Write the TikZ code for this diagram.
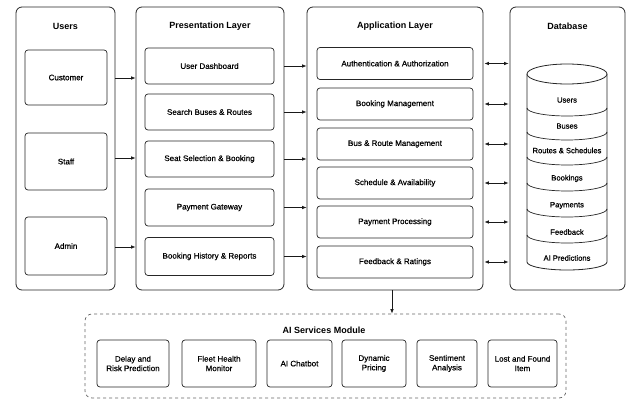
\documentclass[tikz,border=0pt]{standalone}
\usepackage{fontspec}
\setmainfont{Liberation Sans}
\newfontfamily\medfont[FakeBold=0.6]{Liberation Sans}
\usetikzlibrary{arrows.meta}
\tikzset{
  container/.style={draw=black!85, line width=0.8pt, rounded corners=6pt, fill=white, inner sep=0pt},
  item/.style={draw=black!85, line width=0.7pt, rounded corners=3pt, fill=white, inner sep=1pt, align=center, font=\medfont\fontsize{8}{9.5}\selectfont},
  ttl/.style={font=\fontsize{9}{11}\selectfont\bfseries, inner sep=0pt},
  dbl/.style={font=\medfont\fontsize{7.6}{9}\selectfont, inner sep=0pt},
  arr/.style={line width=0.8pt, draw=black!90, -{Latex[length=4.5pt,width=3.6pt]}},
  darr/.style={line width=0.8pt, draw=black!90, {Latex[length=4.5pt,width=3.6pt]}-{Latex[length=4.5pt,width=3.6pt]}}
}
\begin{document}
\begin{tikzpicture}[x=1pt,y=-1pt]
\useasboundingbox (0,0) rectangle (627,401);
\fill[white] (0,0) rectangle (627,401);

% containers
\node[container, minimum width=99pt, minimum height=283pt] (users) at (65.5,148.5) {};
\node[container, minimum width=148pt, minimum height=283pt] (pres) at (210,148.5) {};
\node[container, minimum width=176pt, minimum height=283pt] (app) at (395,148.5) {};
\node[container, minimum width=115pt, minimum height=283pt] (db) at (567.5,148.5) {};

% titles
\node[ttl] (tusers) at (65.5,26) {Users};
\node[ttl] (tpres) at (210,26) {Presentation Layer};
\node[ttl] (tapp) at (395,26) {Application Layer};
\node[ttl] (tdb) at (567.5,26) {Database};

% users
\node[item, minimum width=82pt, minimum height=55pt] (customer) at (66,77.5) {Customer};
\node[item, minimum width=82pt, minimum height=57pt] (staff) at (66,161.5) {Staff};
\node[item, minimum width=82pt, minimum height=58pt] (admin) at (66,246) {Admin};

% presentation
\node[item, minimum width=129pt, minimum height=36pt] (dash) at (209.5,66) {User Dashboard};
\node[item, minimum width=129pt, minimum height=36pt] (search) at (209.5,112) {Search Buses \& Routes};
\node[item, minimum width=129pt, minimum height=36pt] (seat) at (209.5,159) {Seat Selection \& Booking};
\node[item, minimum width=129pt, minimum height=37pt] (paygw) at (209.5,207.5) {Payment Gateway};
\node[item, minimum width=129pt, minimum height=38pt] (hist) at (209.5,256.5) {Booking History \& Reports};

% application
\node[item, minimum width=156pt, minimum height=32pt] (auth) at (395,63.5) {Authentication \& Authorization};
\node[item, minimum width=156pt, minimum height=32pt] (bookm) at (395,104) {Booking Management};
\node[item, minimum width=156pt, minimum height=32pt] (busm) at (395,144) {Bus \& Route Management};
\node[item, minimum width=156pt, minimum height=32pt] (sched) at (395,183) {Schedule \& Availability};
\node[item, minimum width=156pt, minimum height=32pt] (payp) at (395,222) {Payment Processing};
\node[item, minimum width=156pt, minimum height=32pt] (feed) at (395,262) {Feedback \& Ratings};

% database cylinder
\filldraw[line width=0.8pt, draw=black!85, fill=white]
  (527,74) -- (527,262)
  .. controls (527,266.4) and (544.9,270) .. (567,270)
  .. controls (589.1,270) and (607,266.4) .. (607,262)
  -- (607,74);
\draw[line width=0.8pt, draw=black!85, fill=white] (567,74) ellipse [x radius=40, y radius=10];
\foreach \yy in {108,132,157,183,209,235}{
  \draw[line width=0.7pt, draw=black!85]
    (527,\yy) .. controls (527,\yy+4.4) and (544.9,\yy+8) .. (567,\yy+8)
    .. controls (589.1,\yy+8) and (607,\yy+4.4) .. (607,\yy);
}
\node[dbl] (dusers) at (567,100) {Users};
\node[dbl] (dbuses) at (567,126) {Buses};
\node[dbl] (droutes) at (567,150.5) {Routes \& Schedules};
\node[dbl] (dbook) at (567,178.5) {Bookings};
\node[dbl] (dpay) at (567,205.5) {Payments};
\node[dbl] (dfeed) at (567,232) {Feedback};
\node[dbl] (dai) at (567,258) {AI Predictions};

% AI services
\node[container, dashed, draw=black!60, rounded corners=7pt, line width=0.7pt, minimum width=481pt, minimum height=84pt] (ai) at (325.5,356) {};
\node[ttl] (tai) at (324,330) {AI Services Module};
\node[item, minimum width=72pt, minimum height=47pt] (delay) at (133,363.5) {Delay and\\Risk Prediction};
\node[item, minimum width=74pt, minimum height=47pt] (fleet) at (219,363.5) {Fleet Health\\Monitor};
\node[item, minimum width=65pt, minimum height=47pt] (chat) at (299.5,363.5) {AI Chatbot};
\node[item, minimum width=64pt, minimum height=47pt] (dyn) at (374,363.5) {Dynamic\\Pricing};
\node[item, minimum width=60pt, minimum height=47pt] (sent) at (447,363.5) {Sentiment\\Analysis};
\node[item, minimum width=69pt, minimum height=47pt] (lost) at (522.5,363.5) {Lost and Found\\Item};

% users -> presentation
\draw[arr] (users.east |- 0,78) -- (pres.west |- 0,78);
\draw[arr] (users.east |- 0,158) -- (pres.west |- 0,158);
\draw[arr] (users.east |- 0,247) -- (pres.west |- 0,247);

% presentation -> application
\foreach \n in {dash,search,seat,paygw,hist}{
  \draw[arr] (pres.east |- \n) -- (app.west |- \n);
}

% application <-> database
\foreach \n in {auth,bookm,busm,sched,payp,feed}{
  \draw[darr] ([xshift=1pt]app.east |- \n) -- ([xshift=-1pt]db.west |- \n);
}

% application -> AI
\draw[arr] ([xshift=-3pt]app.south) -- ([xshift=-3pt]app.south |- ai.north);
\end{tikzpicture}
\end{document}
